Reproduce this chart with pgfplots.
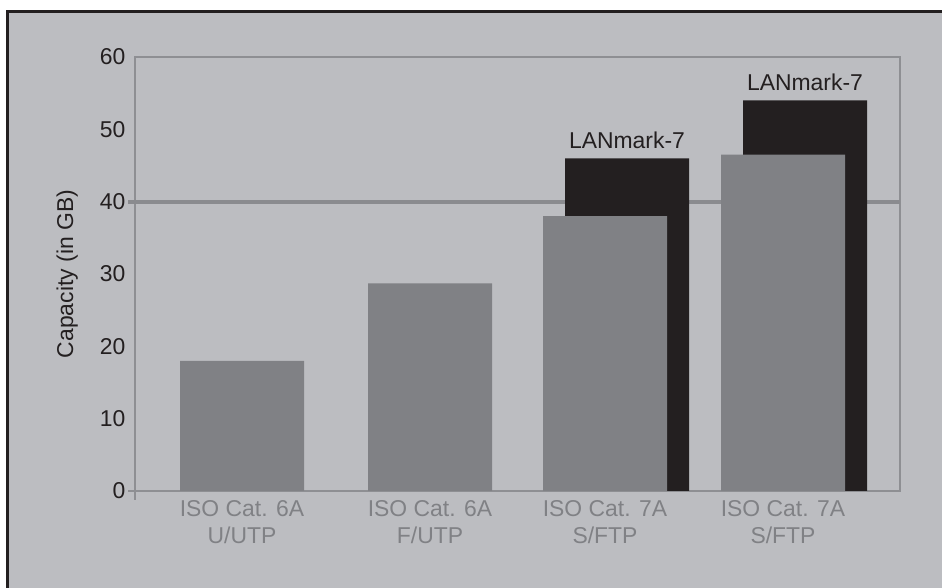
\documentclass[border=0pt]{standalone}
\usepackage{pgfplots}
\pgfplotsset{compat=1.18}
\usepackage{fontspec}
\setmainfont{Liberation Sans}
\definecolor{bgc}{RGB}{188,189,193}
\definecolor{axc}{RGB}{142,143,147}
\definecolor{gridc}{RGB}{138,139,143}
\definecolor{barg}{RGB}{128,129,133}
\definecolor{bark}{RGB}{35,31,32}
\definecolor{txt}{RGB}{35,31,32}
\begin{document}
\begin{tikzpicture}
\path[use as bounding box] (0,0) rectangle (942bp,588bp);
\fill[white] (0,0) rectangle (942bp,588bp);
\fill[bgc] (7.5bp,0) rectangle (942bp,576.5bp);
\draw[bark, line width=2.5bp] (7.5bp,-2bp) -- (7.5bp,576.5bp) -- (944bp,576.5bp);
\begin{axis}[
  at={(135bp,97bp)}, anchor=south west,
  scale only axis, width=765bp, height=434bp,
  xmin=135, xmax=900, ymin=0, ymax=60,
  clip=false,
  axis line style={axc, line width=2bp},
  major tick length=0pt,
  xtick={242,430,605,783},
  xticklabels={{ISO Cat. 6A\\U/UTP},{ISO Cat. 6A\\F/UTP},{ISO Cat. 7A\\S/FTP},{ISO Cat. 7A\\S/FTP}},
  ytick={0,10,...,60},
  /pgf/number format/assume math mode=true,
  tick label style={font=\fontsize{23}{27}\selectfont},
  xticklabel style={align=center, text=barg, yshift=-6bp},
  yticklabel style={text=txt, xshift=-6bp},
  ylabel={Capacity (in GB)},
  ylabel style={at={(axis description cs:-0.081,0.5)}, anchor=base, rotate=0, font=\fontsize{23}{27}\selectfont, text=txt},
  bar width=124,
]
\draw[gridc, line width=4bp] (axis cs:128,40) -- (axis cs:900,40);
\draw[axc, line width=2bp] (axis cs:128,0) -- (axis cs:135,0);
\draw[axc, line width=2bp] (axis cs:135,0) -- (135,-1.3);
\addplot[ybar, bar shift=0pt, fill=bark, draw=none,
  nodes near coords, point meta=explicit symbolic,
  every node near coord/.append style={anchor=base, yshift=10bp, inner sep=0pt, font=\fontsize{23}{27}\selectfont, text=txt}]
  coordinates {(627,46)[LANmark-7] (805,54)[LANmark-7]};
\addplot[ybar, bar shift=0pt, fill=barg, draw=none]
  coordinates {(242,18) (430,28.7) (605,38) (783,46.5)};
\end{axis}
\end{tikzpicture}
\end{document}
